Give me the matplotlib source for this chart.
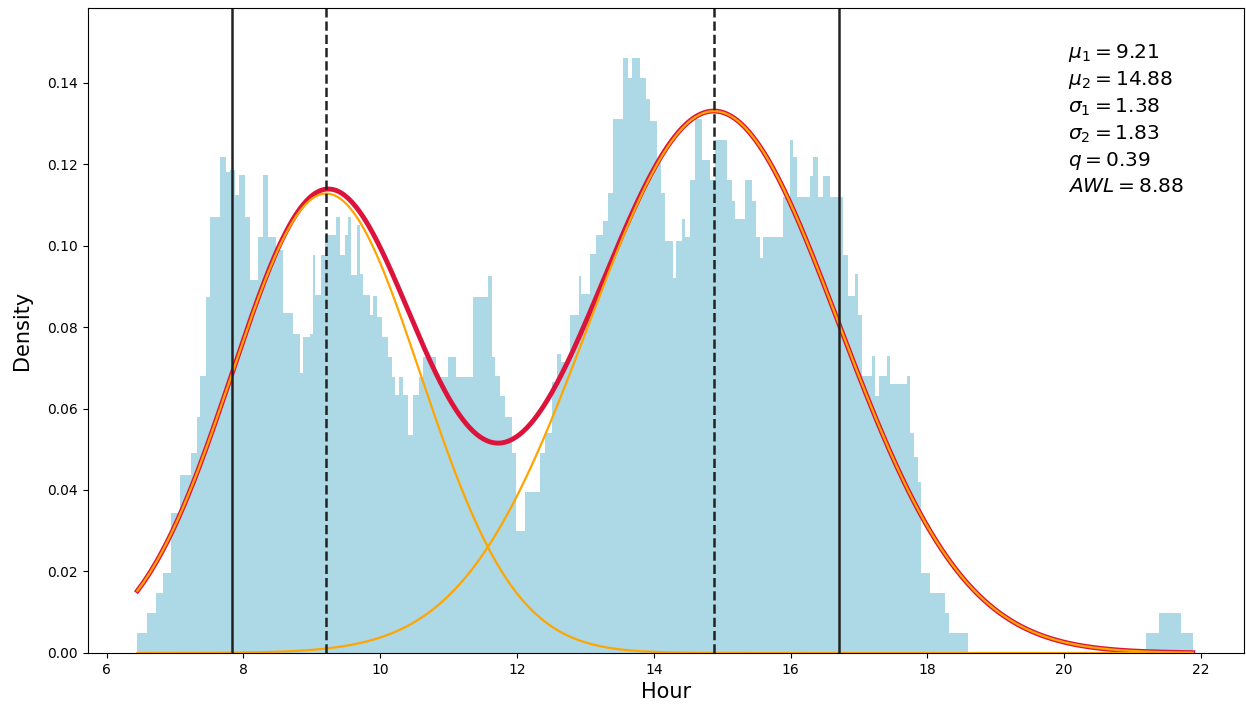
import numpy as np
import matplotlib
matplotlib.use('Agg')
import matplotlib.pyplot as plt

# 히스토그램 구간 경계 (시간)
bin_edges = [6.45, 6.585, 6.72, 6.83, 6.935, 7.07, 7.24, 7.315, 7.365, 7.46, 7.51, 7.66, 7.75, 7.80,
             7.87, 7.94, 8.02, 8.09, 8.21, 8.29, 8.36, 8.48, 8.58, 8.73, 8.83, 8.87, 8.97, 9.02,
             9.04, 9.14, 9.19, 9.36, 9.41, 9.48, 9.53, 9.58, 9.66, 9.70, 9.75, 9.85, 9.90, 9.95,
             10.02, 10.12, 10.17, 10.22, 10.27, 10.34, 10.41, 10.48, 10.56, 10.63, 10.82, 10.99,
             11.11, 11.36, 11.58, 11.63, 11.68, 11.75, 11.82, 11.92, 11.98, 12.11, 12.34, 12.41,
             12.51, 12.58, 12.65, 12.77, 12.90, 12.94, 13.07, 13.16, 13.26, 13.33, 13.41, 13.55,
             13.62, 13.68, 13.80, 13.88, 13.94, 14.04, 14.11, 14.16, 14.28, 14.33, 14.41, 14.46,
             14.53, 14.60, 14.70, 14.82, 14.89, 15.07, 15.14, 15.19, 15.33, 15.43, 15.50, 15.55,
             15.60, 15.89, 15.99, 16.04, 16.09, 16.28, 16.33, 16.40, 16.48, 16.58, 16.77, 16.84,
             16.94, 16.99, 17.04, 17.19, 17.24, 17.29, 17.41, 17.46, 17.70, 17.75, 17.80, 17.87,
             17.90, 18.04, 18.26, 18.31, 18.60, 21.19, 21.39, 21.71, 21.88]

# 각 구간의 밀도 값
density = [0.0048, 0.0097, 0.0146, 0.0196, 0.0343, 0.0437, 0.049, 0.058, 0.068, 0.0874, 0.107,
           0.1218, 0.118, 0.1185, 0.1124, 0.1173, 0.107, 0.0915, 0.102, 0.1173, 0.102, 0.0989,
           0.0834, 0.0784, 0.0686, 0.0776, 0.0784, 0.0977, 0.0878, 0.0977, 0.1026, 0.107, 0.0977,
           0.1026, 0.107, 0.0928, 0.105, 0.093, 0.0878, 0.083, 0.0875, 0.0825, 0.0776, 0.0727,
           0.0678, 0.0633, 0.0678, 0.0633, 0.0535, 0.0633, 0.0678, 0.0727, 0.0678, 0.0727, 0.0678,
           0.0874, 0.0924, 0.0727, 0.068, 0.063, 0.058, 0.049, 0.030, 0.0396, 0.049, 0.054, 0.0666,
           0.0733, 0.0714, 0.083, 0.0926, 0.088, 0.098, 0.1027, 0.106, 0.113, 0.131, 0.146, 0.141,
           0.146, 0.141, 0.136, 0.1306, 0.1205, 0.113, 0.101, 0.092, 0.101, 0.1066, 0.102, 0.116,
           0.131, 0.121, 0.116, 0.126, 0.116, 0.111, 0.1066, 0.116, 0.111, 0.102, 0.097, 0.102,
           0.112, 0.126, 0.1217, 0.112, 0.117, 0.1217, 0.112, 0.117, 0.112, 0.0976, 0.0875, 0.093,
           0.083, 0.068, 0.073, 0.063, 0.068, 0.073, 0.066, 0.068, 0.054, 0.048, 0.042, 0.0196,
           0.0146, 0.0097, 0.0048, 0.0, 0.0048, 0.0097, 0.0048]

assert len(density) == len(bin_edges) - 1

# 혼합 정규분포 파라미터
mu1, mu2 = 9.21, 14.88
sigma1, sigma2 = 1.38, 1.83
q = 0.39
awl = 8.88


def normal_pdf(x, mu, sigma):
    return np.exp(-0.5 * ((x - mu) / sigma) ** 2) / (sigma * np.sqrt(2 * np.pi))


x = np.linspace(bin_edges[0], bin_edges[-1], 600)
comp1 = q * normal_pdf(x, mu1, sigma1)
comp2 = (1 - q) * normal_pdf(x, mu2, sigma2)
mix = comp1 + comp2

fig = plt.figure(figsize=(12.46, 7.11), dpi=100)
ax = fig.add_axes([0.0706, 0.0816, 0.9278, 0.9072])

ax.stairs(density, bin_edges, fill=True, color='lightblue')

ax.plot(x, mix, color='crimson', lw=3.5)
ax.plot(x, comp1, color='orange', lw=1.6)
ax.plot(x, comp2, color='orange', lw=1.6)

# 평균(점선)과 평균 ± 표준편차(실선)
ax.axvline(mu1, color='#222222', ls='--', lw=1.8)
ax.axvline(mu2, color='#222222', ls='--', lw=1.8)
ax.axvline(mu1 - sigma1, color='#222222', lw=1.8)
ax.axvline(mu2 + sigma2, color='#222222', lw=1.8)

txt = '\n'.join([r'$\mu_1 = %.2f$' % mu1, r'$\mu_2 = %.2f$' % mu2,
                 r'$\sigma_1 = %.2f$' % sigma1, r'$\sigma_2 = %.2f$' % sigma2,
                 r'$q = %.2f$' % q, r'$AWL = %.2f$' % awl])
ax.text(0.848, 0.947, txt, transform=ax.transAxes, va='top', ha='left', fontsize=14.5,
        linespacing=1.33)

ax.set_xlim(5.727, 22.63)
ax.set_ylim(0, 0.1583)
ax.set_xlabel('Hour', fontsize=15)
ax.set_ylabel('Density', fontsize=15, labelpad=11)

fig.savefig('out.png', dpi=100)
